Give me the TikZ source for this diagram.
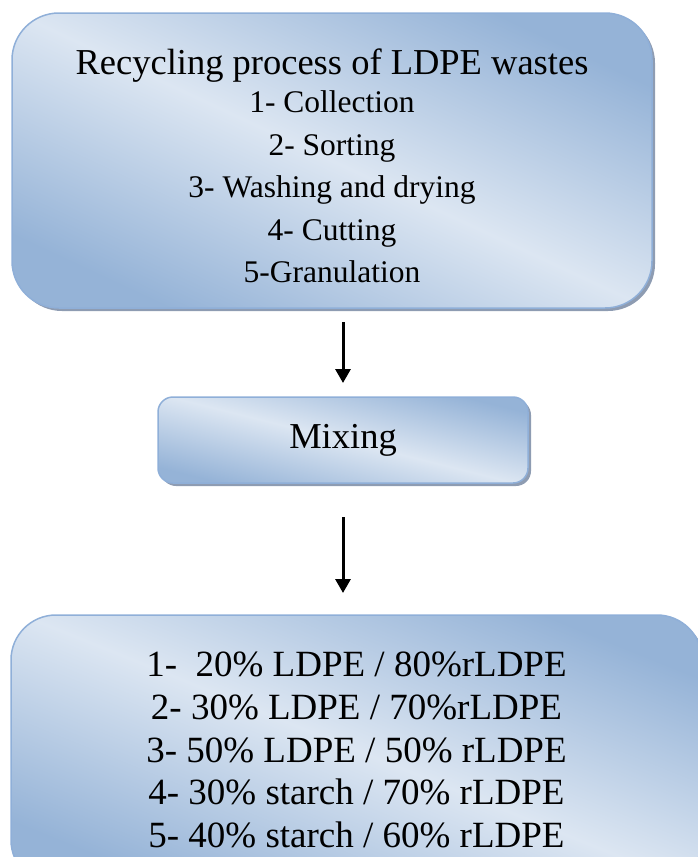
\documentclass[tikz,border=0pt]{standalone}
\usepackage{fontspec}
\setmainfont{Liberation Serif}
\usetikzlibrary{positioning,shadows,arrows.meta}

\definecolor{boxdark}{HTML}{95B3D7}
\definecolor{boxlight}{HTML}{DCE6F2}
\definecolor{boxline}{HTML}{8FAFD8}
\definecolor{boxshadow}{HTML}{8E9CB2}

\begin{document}
\begin{tikzpicture}[
			boxnode/.style={rectangle, draw=boxline, line width=1.5pt, outer sep=0pt, align=center,
				top color=boxdark, bottom color=boxdark, middle color=boxlight,
				drop shadow={shadow xshift=3pt, shadow yshift=-3pt, fill=boxshadow, opacity=1}},
			wastenode/.style={boxnode, minimum width=640pt, minimum height=295pt, rounded corners=47pt,
				shading angle=-25, font=\fontsize{31.5}{42.5}\selectfont},
			mixnode/.style={boxnode, minimum width=370pt, minimum height=86pt, rounded corners=15pt,
				shading angle=-14, font=\fontsize{36.5}{40}\selectfont},
			blendnode/.style={boxnode, minimum width=691pt, minimum height=270pt, rounded corners=45pt,
				shading angle=-22, font=\fontsize{37}{42.8}\selectfont},
			flowarrow/.style={line width=3pt, -{Triangle[width=15pt,length=14pt]}},
			]
			\useasboundingbox (0,0) rectangle (697pt,-857pt);
			%Nodes
			\node[wastenode] (recycle) at (332pt,-160.5pt)
				{{\fontsize{36.5}{40}\selectfont\rule{0pt}{37pt}Recycling process of LDPE wastes}\\[-4.5pt]
				1- Collection\\ 2- Sorting\\ 3- Washing and drying\\ 4- Cutting\\ 5-Granulation};
			\node[mixnode] (mix) [below=89pt of recycle, xshift=11pt] {Mixing};
			\node[blendnode] (blend) [below=132pt of mix, xshift=13.5pt]
				{1-\ \ 20\% LDPE / 80\%rLDPE\\ 2- 30\% LDPE / 70\%rLDPE\\ 3- 50\% LDPE / 50\% rLDPE\\
				4- 30\% starch / 70\% rLDPE\\ 5- 40\% starch / 60\% rLDPE};

			%Arrows
			\draw[flowarrow, shorten <=14pt, shorten >=14pt] (recycle.south -| mix.north) -- (mix.north);
			\draw[flowarrow, shorten <=34pt, shorten >=22pt] (mix.south) -- (mix.south |- blend.north);
		\end{tikzpicture}
\end{document}
